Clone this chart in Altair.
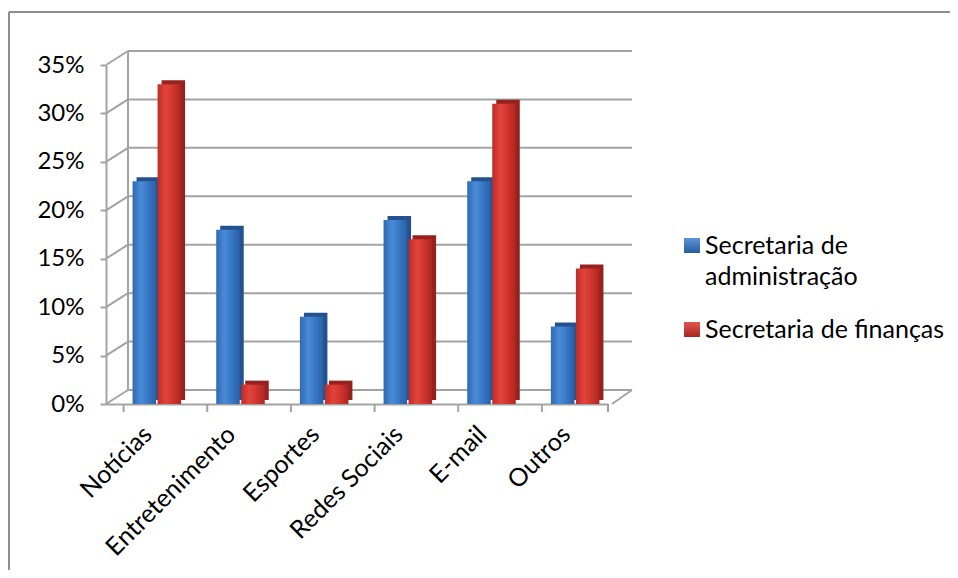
import altair as alt
import pandas as pd

categories = ["Notícias", "Entretenimento", "Esportes", "Redes Sociais", "E-mail", "Outros"]
admin = [23, 18, 9, 19, 23, 8]
financas = [33, 2, 2, 17, 31, 14]
series_names = ["Secretaria de administração", "Secretaria de finanças"]
legend_lines = [["Secretaria de", "administração"], ["Secretaria de finanças"]]
y_ticks = [0, 5, 10, 15, 20, 25, 30, 35]

W, H = 502, 339
DX, DY = 22, -14
GRID = "#A3A3A3"
FONT = "Lato"
FS = 25

rows = []
for c, a, f in zip(categories, admin, financas):
    rows.append({"cat": c, "series": series_names[0], "value": a})
    rows.append({"cat": c, "series": series_names[1], "value": f})
df = pd.DataFrame(rows)
ticks_df = pd.DataFrame({"t": y_ticks})
one = pd.DataFrame({"k": [0]})

xscale = alt.Scale(domain=categories, paddingInner=0.42, paddingOuter=0.21)
yscale = alt.Scale(domain=[0, 35], nice=False, zero=True)
offscale = alt.Scale(domain=series_names, paddingInner=0.06)

yaxis = alt.Axis(values=y_ticks, labelExpr="datum.value + '%'", grid=False,
                 domainColor=GRID, domainWidth=2, tickColor=GRID, tickWidth=2,
                 tickSize=6, labelFont=FONT, labelFontSize=24, labelColor="#000",
                 labelPadding=16, title=None)
xaxis = alt.Axis(ticks=False, domainColor=GRID, domainWidth=2, labelAngle=-45,
                 labelAlign="right", labelBaseline="middle", labelFont=FONT,
                 labelFontSize=FS, labelColor="#000", labelPadding=26, title=None)

X = alt.X("cat:N", scale=xscale, axis=xaxis, sort=categories)
Y = alt.Y("value:Q", scale=yscale, axis=yaxis)

# back-wall gridlines
grid_slant = alt.Chart(ticks_df).mark_rule(color=GRID, strokeWidth=2, y2Offset=DY).encode(
    x=alt.value(0), x2=alt.value(DX),
    y=alt.Y("t:Q", scale=yscale, axis=yaxis), y2="t:Q")
grid_back = alt.Chart(ticks_df).mark_rule(color=GRID, strokeWidth=2, yOffset=DY, y2Offset=DY).encode(
    x=alt.value(DX), x2=alt.value(W + DX + 2),
    y=alt.Y("t:Q", scale=yscale, axis=yaxis))
wall_left = alt.Chart(one).mark_rule(color=GRID, strokeWidth=2, yOffset=DY, y2Offset=DY).encode(
    x=alt.value(DX), y=alt.datum(0, scale=yscale, axis=yaxis), y2=alt.datum(35))
floor_right = alt.Chart(one).mark_rule(color=GRID, strokeWidth=2, y2Offset=DY).encode(
    x=alt.value(W + 4), x2=alt.value(W + DX + 2),
    y=alt.datum(0, scale=yscale, axis=yaxis), y2=alt.datum(0))
cat_ticks = alt.Chart(pd.DataFrame({"cat": categories})).mark_rule(
    color=GRID, strokeWidth=2, y2Offset=8).encode(
    x=alt.X("cat:N", scale=xscale, axis=xaxis, sort=categories, bandPosition=0),
    y=alt.datum(0, scale=yscale, axis=yaxis), y2=alt.datum(0))
end_tick = alt.Chart(one).mark_rule(color=GRID, strokeWidth=2, y2Offset=8).encode(
    x=alt.value(W), y=alt.datum(0, scale=yscale, axis=yaxis), y2=alt.datum(0))

# bars sit a little deeper than the front axis: their own band scale, shifted right
BX, SX, SY = 9, 4, -4


def bar_x(shift):
    return alt.X("cat:N", sort=categories, axis=None,
                 scale=alt.Scale(domain=categories, paddingInner=0.42, paddingOuter=0.21,
                                 range=[shift, W + shift]))


side = alt.Chart(df).mark_bar(yOffset=SY).encode(
    x=bar_x(BX + SX), xOffset=alt.XOffset("series:N", scale=offscale), y=Y,
    color=alt.Color("series:N", scale=alt.Scale(domain=series_names, range=["#24528F", "#96211E"]),
                    legend=None))

grad_blue = alt.LinearGradient(gradient="linear", x1=0, x2=1, y1=0, y2=0, stops=[
    alt.GradientStop(color="#2F69B3", offset=0), alt.GradientStop(color="#4A8BD8", offset=0.35),
    alt.GradientStop(color="#3574C2", offset=0.7), alt.GradientStop(color="#2B5FA3", offset=1)])
grad_red = alt.LinearGradient(gradient="linear", x1=0, x2=1, y1=0, y2=0, stops=[
    alt.GradientStop(color="#BE2C28", offset=0), alt.GradientStop(color="#E2443C", offset=0.35),
    alt.GradientStop(color="#CC332D", offset=0.7), alt.GradientStop(color="#AE2622", offset=1)])

front_a = alt.Chart(df).transform_filter(alt.datum.series == series_names[0]).mark_bar(
    color=grad_blue).encode(
    x=bar_x(BX), xOffset=alt.XOffset("series:N", scale=offscale), y=Y)
front_f = alt.Chart(df).transform_filter(alt.datum.series == series_names[1]).mark_bar(
    color=grad_red).encode(
    x=bar_x(BX), xOffset=alt.XOffset("series:N", scale=offscale), y=Y)

# legend (drawn by hand so the wrapped label gets the right line spacing)
sym_blue = alt.LinearGradient(gradient="linear", x1=0, x2=0, y1=0, y2=1, stops=[
    alt.GradientStop(color="#5A95DA", offset=0), alt.GradientStop(color="#2A5C9E", offset=1)])
sym_red = alt.LinearGradient(gradient="linear", x1=0, x2=0, y1=0, y2=1, stops=[
    alt.GradientStop(color="#E0564E", offset=0), alt.GradientStop(color="#A82622", offset=1)])
LX, TX = 578, 599
leg_layers = [
    alt.Chart(one).mark_rect(color=sym_blue).encode(
        x=alt.value(LX), x2=alt.value(LX + 16), y=alt.value(173), y2=alt.value(188)),
    alt.Chart(one).mark_rect(color=sym_red).encode(
        x=alt.value(LX), x2=alt.value(LX + 16), y=alt.value(257), y2=alt.value(272)),
]
for ln, yy in zip(legend_lines[0] + legend_lines[1], [181, 212, 265]):
    leg_layers.append(alt.Chart(one).mark_text(
        align="left", baseline="middle", font=FONT, fontSize=FS, color="#000").encode(
        x=alt.value(TX), y=alt.value(yy), text=alt.value(ln)))

border_top = alt.Chart(one).mark_rule(color="#8E8E8E", strokeWidth=2).encode(
    x=alt.value(-97), x2=alt.value(W + 345), y=alt.value(-53))
border_left = alt.Chart(one).mark_rule(color="#8E8E8E", strokeWidth=2).encode(
    x=alt.value(-97), y=alt.value(-53), y2=alt.value(H + 170))

chart = alt.layer(
    grid_slant, grid_back, wall_left, floor_right, cat_ticks, end_tick,
    side, front_a, front_f, *leg_layers, border_top, border_left
).resolve_scale(x="independent").properties(
    width=W, height=H,
    autosize=alt.AutoSizeParams(type="none"),
    padding={"left": 98, "top": 57, "right": 342, "bottom": 166},
    background="white",
).configure_view(stroke=None)

chart.save("out.html", embed_options={"renderer": "svg", "actions": False})
